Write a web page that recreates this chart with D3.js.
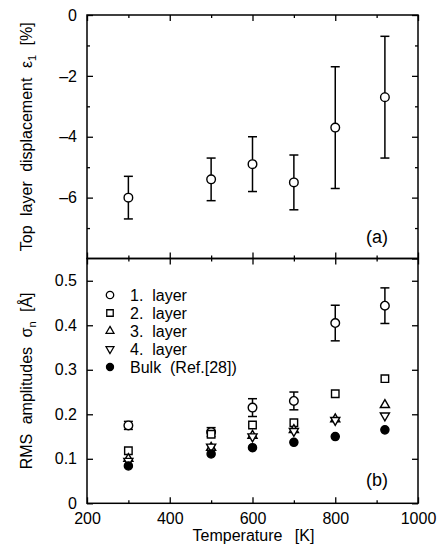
<!DOCTYPE html>
<html>
<head>
<meta charset="utf-8">
<script src="https://cdn.jsdelivr.net/npm/d3@7"></script>
<style>
    body { margin: 0; background: #fff; }
    svg { font-family: "Liberation Sans", Arial, sans-serif; }
    .axis text { font-size: 16px; fill: #000; }
    .axis line { stroke: #000; stroke-width: 1.3; }
    .axis path { display: none; }
</style>
</head>
<body>
<svg id="chart" width="439" height="556"></svg>
<script>
// temperatures [K]
let temps = [300, 500, 600, 700, 800, 920];

// (a) top layer displacement eps1 [%]
let eps1 = [-6.0, -5.4, -4.9, -5.5, -3.7, -2.7],
    eps1_err = [0.7, 0.7, 0.9, 0.9, 2.0, 2.0];

// (b) RMS amplitudes sigma_n [A]
let layer1 = [0.175, 0.160, 0.215, 0.230, 0.405, 0.444],
    layer1_err = [0.009, 0.010, 0.020, 0.020, 0.040, 0.040],
    layer2 = [0.118, 0.155, 0.176, 0.181, 0.246, 0.280],
    layer3 = [0.100, 0.125, 0.152, 0.165, 0.189, 0.221],
    layer4 = [0.095, 0.127, 0.150, 0.162, 0.187, 0.197],
    bulk = [0.084, 0.111, 0.125, 0.137, 0.150, 0.165];

let legend_labels = ["1.  layer", "2.  layer", "3.  layer", "4.  layer", "Bulk  (Ref.[28])"];

let x_major = [200, 400, 600, 800, 1000],
    x_minor = [300, 500, 700, 900],
    ya_major = [0, -2, -4, -6, -8],
    ya_minor = [-1, -3, -5, -7],
    yb_major = [0, 0.1, 0.2, 0.3, 0.4, 0.5];

let svg = d3.select("#chart"),
    left = 87, right = 418,
    top_a = 15, mid = 258.5, bot_b = 503.3;

let x = d3.scaleLinear().domain([200, 1000]).range([left, right]),
    ya = d3.scaleLinear().domain([-8, 0]).range([mid, top_a]),
    yb = d3.scaleLinear().domain([0, 0.55]).range([bot_b, mid]);

function addAxes(y, major, minor, fmt, y0, y1, showX) {
    // left
    svg.append("g").attr("class", "axis").attr("transform", "translate(" + left + ",0)")
        .call(d3.axisLeft(y).tickValues(major.filter(v => !(v === -8))).tickSize(-6).tickPadding(10).tickFormat(fmt));
    if (minor)
        svg.append("g").attr("class", "axis").attr("transform", "translate(" + left + ",0)")
            .call(d3.axisLeft(y).tickValues(minor).tickSize(-3).tickFormat(""));
    // right
    svg.append("g").attr("class", "axis").attr("transform", "translate(" + right + ",0)")
        .call(d3.axisRight(y).tickValues(major).tickSize(-6).tickFormat(""));
    if (minor)
        svg.append("g").attr("class", "axis").attr("transform", "translate(" + right + ",0)")
            .call(d3.axisRight(y).tickValues(minor).tickSize(-3).tickFormat(""));
    // top / bottom
    svg.append("g").attr("class", "axis").attr("transform", "translate(0," + y1 + ")")
        .call(d3.axisTop(x).tickValues(x_major).tickSize(-6).tickFormat(""));
    svg.append("g").attr("class", "axis").attr("transform", "translate(0," + y1 + ")")
        .call(d3.axisTop(x).tickValues(x_minor).tickSize(-3).tickFormat(""));
    svg.append("g").attr("class", "axis").attr("transform", "translate(0," + y0 + ")")
        .call(d3.axisBottom(x).tickValues(x_major).tickSize(-6).tickPadding(9)
            .tickFormat(showX ? d3.format("d") : ""));
    svg.append("g").attr("class", "axis").attr("transform", "translate(0," + y0 + ")")
        .call(d3.axisBottom(x).tickValues(x_minor).tickSize(-3).tickFormat(""));
    svg.append("rect")
        .attr("x", left).attr("y", y1)
        .attr("width", right - left).attr("height", y0 - y1)
        .attr("fill", "none").attr("stroke", "#000").attr("stroke-width", 1.5);
}

addAxes(ya, ya_major, ya_minor, d3.format("d"), mid, top_a, false);
addAxes(yb, yb_major, null, d => d === 0 ? "0" : d3.format(".1f")(d), bot_b, mid, true);

// minus signs as en-dash like the original
svg.selectAll(".axis text").text(function () { return this.textContent.replace("−", "–"); });

// *** Panel (a)
let ga = svg.append("g").attr("class", "panel-a");
ga.selectAll("line.err").data(temps).enter().append("line")
    .attr("x1", d => x(d)).attr("x2", d => x(d))
    .attr("y1", (d, i) => ya(eps1[i] + eps1_err[i]))
    .attr("y2", (d, i) => ya(eps1[i] - eps1_err[i]))
    .attr("stroke", "#000").attr("stroke-width", 1.5);
[1, -1].forEach(s => {
    ga.selectAll("line.cap" + s).data(temps).enter().append("line")
        .attr("x1", d => x(d) - 4.5).attr("x2", d => x(d) + 4.5)
        .attr("y1", (d, i) => ya(eps1[i] + s * eps1_err[i]))
        .attr("y2", (d, i) => ya(eps1[i] + s * eps1_err[i]))
        .attr("stroke", "#000").attr("stroke-width", 1.5);
});
ga.selectAll("circle").data(temps).enter().append("circle")
    .attr("cx", d => x(d)).attr("cy", (d, i) => ya(eps1[i]))
    .attr("r", 4.3).attr("fill", "#fff").attr("stroke", "#000").attr("stroke-width", 1.4);

svg.append("text").attr("x", 388).attr("y", 243).attr("text-anchor", "end")
    .style("font-size", "18px").text("(a)");

// *** Panel (b)
let gb = svg.append("g").attr("class", "panel-b");
gb.selectAll("line.err").data(temps).enter().append("line")
    .attr("x1", d => x(d)).attr("x2", d => x(d))
    .attr("y1", (d, i) => yb(layer1[i] + layer1_err[i]))
    .attr("y2", (d, i) => yb(layer1[i] - layer1_err[i]))
    .attr("stroke", "#000").attr("stroke-width", 1.5);
[1, -1].forEach(s => {
    gb.selectAll("line.cap" + s).data(temps).enter().append("line")
        .attr("x1", d => x(d) - 4.5).attr("x2", d => x(d) + 4.5)
        .attr("y1", (d, i) => yb(layer1[i] + s * layer1_err[i]))
        .attr("y2", (d, i) => yb(layer1[i] + s * layer1_err[i]))
        .attr("stroke", "#000").attr("stroke-width", 1.5);
});

let series = [
    {vals: layer1, sym: d3.symbolCircle, size: 58, rot: 0, fill: "#fff"},
    {vals: layer2, sym: d3.symbolSquare, size: 56, rot: 0, fill: "#fff"},
    {vals: layer3, sym: d3.symbolTriangle, size: 36, rot: 0, fill: "#fff"},
    {vals: layer4, sym: d3.symbolTriangle, size: 36, rot: 180, fill: "#fff"},
    {vals: bulk, sym: d3.symbolCircle, size: 52, rot: 0, fill: "#000"}
];

function symbolPath(s) {
    return d3.symbol().type(s.sym).size(s.size)();
}

series.forEach(s => {
    gb.selectAll(null).data(temps).enter().append("path")
        .attr("d", symbolPath(s))
        .attr("transform", (d, i) => "translate(" + x(d) + "," + yb(s.vals[i]) + ") rotate(" + s.rot + ")")
        .attr("fill", s.fill).attr("stroke", "#000").attr("stroke-width", 1.4);
});

// legend
let leg = svg.append("g").attr("class", "legend");
series.forEach((s, i) => {
    let yy = 295 + i * 18;
    leg.append("path")
        .attr("d", d3.symbol().type(s.sym).size(s.size * 0.75)())
        .attr("transform", "translate(110," + yy + ") rotate(" + s.rot + ")")
        .attr("fill", s.fill).attr("stroke", "#000").attr("stroke-width", 1.3);
    leg.append("text").attr("x", 130).attr("y", yy + 6)
        .style("font-size", "16px").style("white-space", "pre")
        .text(legend_labels[i]);
});

svg.append("text").attr("x", 388).attr("y", 486).attr("text-anchor", "end")
    .style("font-size", "18px").text("(b)");

// *** Axis titles
svg.append("text").attr("x", (left + right) / 2 + 1).attr("y", 541)
    .attr("text-anchor", "middle").style("font-size", "16px").style("word-spacing", "8px")
    .text("Temperature [K]");

let ta = svg.append("text")
    .attr("transform", "translate(32," + ((top_a + mid) / 2) + ") rotate(-90)")
    .attr("text-anchor", "middle").style("font-size", "16px").style("word-spacing", "5px");
ta.append("tspan").text("Top layer displacement ε");
ta.append("tspan").attr("dy", 4).style("font-size", "11px").text("1");
ta.append("tspan").attr("dy", -4).text(" [%]");

let tb = svg.append("text")
    .attr("transform", "translate(32," + ((mid + bot_b) / 2) + ") rotate(-90)")
    .attr("text-anchor", "middle").style("font-size", "16px").style("word-spacing", "5px");
tb.append("tspan").text("RMS amplitudes σ");
tb.append("tspan").attr("dy", 4).style("font-size", "11px").text("n");
tb.append("tspan").attr("dy", -4).text(" [Å]");
</script>
</body>
</html>
